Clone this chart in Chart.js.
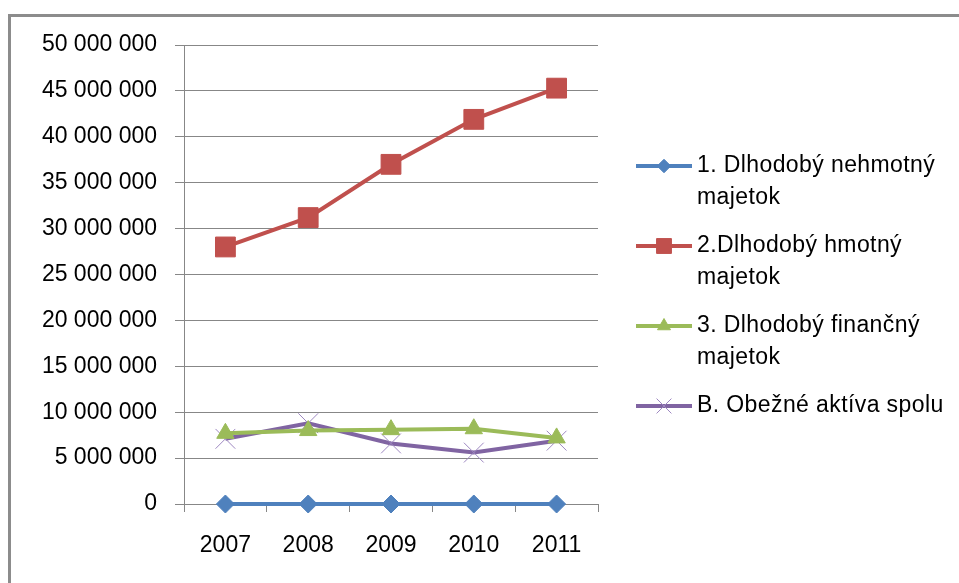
<!DOCTYPE html>
<html>
<head>
<meta charset="utf-8">
<script src="https://cdn.jsdelivr.net/npm/chart.js@4.4.1/dist/chart.umd.min.js"></script>
<style>
    html, body { margin: 0; padding: 0; background: #fff; overflow: hidden; }
    #wrap { position: relative; width: 959px; height: 583px; }
    #frame { position: absolute; left: 8px; top: 14px; width: 1100px; height: 800px; border: 3px solid #8c8c8c; box-sizing: border-box; }
    canvas { position: absolute; left: 0; top: 0; }
</style>
</head>
<body>
<div id="wrap">
    <div id="frame"></div>
    <canvas id="line-chart" width="959" height="583"></canvas>
</div>
<script>
const years = ['2007', '2008', '2009', '2010', '2011'];
const nehmotny = [0, 0, 0, 0, 0];
const hmotny = [28000000, 31200000, 37000000, 41900000, 45300000];
const financny = [7700000, 8000000, 8100000, 8200000, 7200000];
const obezne = [7100000, 8800000, 6600000, 5600000, 6900000];
const seriesNames = [
    ['1. Dlhodobý nehmotný', 'majetok'],
    ['2.Dlhodobý hmotný', 'majetok'],
    ['3. Dlhodobý finančný', 'majetok'],
    ['B. Obežné aktíva spolu']
];
const yTicks = [0, 5000000, 10000000, 15000000, 20000000, 25000000, 30000000, 35000000, 40000000, 45000000, 50000000];

const FONT = "'Liberation Sans', Arial, sans-serif";
Chart.defaults.font.family = FONT;
Chart.defaults.font.size = 23;
Chart.defaults.color = '#000';

function spaced(v) {
    return String(v).replace(/\B(?=(\d{3})+(?!\d))/g, ' ');
}

// legend drawn by hand, Excel style with wrapped labels
const sideLegend = {
    id: 'sideLegend',
    afterDraw(chart) {
        const ctx = chart.ctx;
        const x0 = 636, x1 = 692, tx = 697;
        let y = 166;
        ctx.save();
        ctx.font = '23px ' + FONT;
        ctx.letterSpacing = '0.4px';
        ctx.textBaseline = 'middle';
        chart.data.datasets.forEach((ds, i) => {
            ctx.strokeStyle = ds.borderColor;
            ctx.lineWidth = 4;
            ctx.beginPath();
            ctx.moveTo(x0, y);
            ctx.lineTo(x1, y);
            ctx.stroke();
            ctx.fillStyle = ds.pointBackgroundColor;
            ctx.strokeStyle = ds.pointBorderColor;
            ctx.lineWidth = ds.pointBorderWidth;
            Chart.helpers.drawPoint(ctx, {
                pointStyle: ds.pointStyle,
                radius: ds.pointRadius * 0.75,
                rotation: 0,
                borderWidth: ds.pointBorderWidth
            }, (x0 + x1) / 2, y);
            ctx.fillStyle = '#000';
            const lines = seriesNames[i];
            lines.forEach((t, k) => ctx.fillText(t, tx, y + k * 31.5));
            y += 80;
        });
        ctx.restore();
    }
};

const lnc = document.getElementById('line-chart');
new Chart(lnc, {
    type: 'line',
    data: {
        labels: years,
        datasets: [
            {
                label: seriesNames[0].join(' '),
                data: nehmotny,
                borderColor: '#4F81BD',
                borderWidth: 4,
                pointStyle: 'rectRot',
                pointRadius: 9,
                pointBackgroundColor: '#4F81BD',
                pointBorderColor: '#4F81BD',
                pointBorderWidth: 1,
                clip: false
            },
            {
                label: seriesNames[1].join(' '),
                data: hmotny,
                borderColor: '#C0504D',
                borderWidth: 4,
                pointStyle: 'rect',
                pointRadius: 14,
                pointBackgroundColor: '#C0504D',
                pointBorderColor: '#C0504D',
                pointBorderWidth: 1,
                clip: false
            },
            {
                label: seriesNames[2].join(' '),
                data: financny,
                borderColor: '#9BBB59',
                borderWidth: 4,
                pointStyle: 'triangle',
                pointRadius: 10,
                pointBackgroundColor: '#9BBB59',
                pointBorderColor: '#9BBB59',
                pointBorderWidth: 1,
                clip: false
            },
            {
                label: seriesNames[3].join(' '),
                data: obezne,
                borderColor: '#8064A2',
                borderWidth: 4,
                pointStyle: 'crossRot',
                pointRadius: 14,
                pointBackgroundColor: '#8064A2',
                pointBorderColor: '#9d87c0',
                pointBorderWidth: 1,
                clip: false
            }
        ]
    },
    options: {
        responsive: false,
        animation: false,
        layout: { padding: { left: 0, right: 361, top: 45, bottom: 0 } },
        plugins: {
            legend: { display: false },
            tooltip: { enabled: false }
        },
        scales: {
            x: {
                offset: true,
                grid: {
                    offset: true,
                    drawOnChartArea: false,
                    drawTicks: true,
                    tickLength: 8,
                    color: '#878787'
                },
                border: { color: '#878787' },
                ticks: { padding: 20, maxRotation: 0 },
                afterFit: s => { s.height = 79; }
            },
            y: {
                min: 0,
                max: 50000000,
                afterBuildTicks: s => { s.ticks = yTicks.map(v => ({ value: v })); },
                grid: { color: '#878787', tickLength: 9, lineWidth: 1 },
                border: { color: '#878787', width: 1 },
                ticks: { padding: 18, callback: v => spaced(v) },
                afterFit: s => { s.width = 184; }
            }
        }
    },
    plugins: [sideLegend]
});
</script>
</body>
</html>
